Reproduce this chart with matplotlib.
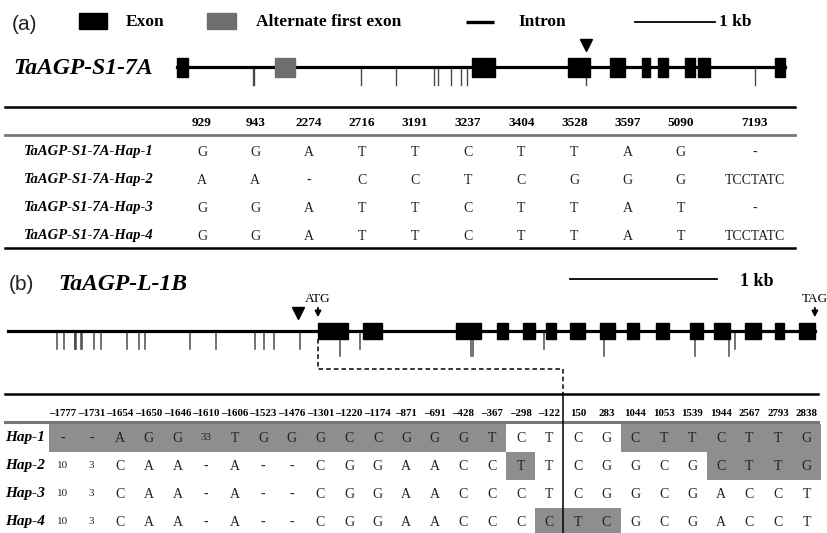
import matplotlib
matplotlib.use("Agg")
import matplotlib.pyplot as plt
from matplotlib.patches import Rectangle

SERIF = "Liberation Serif"
SANS = "Liberation Sans"

# ---------------- data ----------------
# (a) TaAGP-S1-7A : positions in bp
a_gene_span = (-20, 7570)
a_exons = [(-20, 120), (3660, 3950), (4860, 5135), (5385, 5575), (5785, 5885),
           (5985, 6110), (6320, 6445), (6485, 6635), (7445, 7570)]
a_alt_exon = (1205, 1455)
a_snp_pos = [929, 943, 2274, 2716, 3191, 3237, 3404, 3528, 3597, 5090, 7193]
a_marker_pos = 5090
a_hap_names = ["TaAGP-S1-7A-Hap-1", "TaAGP-S1-7A-Hap-2",
               "TaAGP-S1-7A-Hap-3", "TaAGP-S1-7A-Hap-4"]
a_alleles = [
    ["G", "G", "A", "T", "T", "C", "T", "T", "A", "G", "-"],
    ["A", "A", "-", "C", "C", "T", "C", "G", "G", "G", "TCCTATC"],
    ["G", "G", "A", "T", "T", "C", "T", "T", "A", "T", "-"],
    ["G", "G", "A", "T", "T", "C", "T", "T", "A", "T", "TCCTATC"],
]

# (b) TaAGP-L-1B : positions in bp relative to ATG
b_gene_span = (-2110, 3380)
b_exons = [(0, 204), (306, 435), (939, 1109), (1218, 1293), (1395, 1476),
           (1551, 1619), (1714, 1816), (1918, 2020), (2102, 2184), (2299, 2388),
           (2531, 2619), (2694, 2803), (2905, 3014), (3109, 3170), (3272, 3380)]
b_atg_pos = 0
b_tag_pos = 3380
b_marker_pos = -122
b_snp_pos = [-1777, -1731, -1654, -1650, -1646, -1610, -1606, -1523, -1476,
             -1301, -1220, -1174, -871, -691, -428, -367, -298, -122,
             150, 283, 1044, 1053, 1539, 1944, 2567, 2793, 2838]
b_hap_names = ["Hap-1", "Hap-2", "Hap-3", "Hap-4"]
b_alleles = [
    ["-", "-", "A", "G", "G", "33", "T", "G", "G", "G", "C", "C", "G", "G", "G", "T", "C", "T",
     "C", "G", "C", "T", "T", "C", "T", "T", "G"],
    ["10", "3", "C", "A", "A", "-", "A", "-", "-", "C", "G", "G", "A", "A", "C", "C", "T", "T",
     "C", "G", "G", "C", "G", "C", "T", "T", "G"],
    ["10", "3", "C", "A", "A", "-", "A", "-", "-", "C", "G", "G", "A", "A", "C", "C", "C", "T",
     "C", "G", "G", "C", "G", "A", "C", "C", "T"],
    ["10", "3", "C", "A", "A", "-", "A", "-", "-", "C", "G", "G", "A", "A", "C", "C", "C", "C",
     "T", "C", "G", "C", "G", "A", "C", "C", "T"],
]
# highlighted cells (1 = shaded)
b_shaded = [
    "1111111111111111" + "00" + "00" + "1111111",
    "0000000000000000" + "10" + "00" + "0001111",
    "0000000000000000" + "00" + "00" + "0000000",
    "0000000000000000" + "01" + "11" + "0000000",
]
b_split_after = 17  # promoter | coding region divider

# ---------------- figure ----------------
W, H = 828, 533
fig = plt.figure(figsize=(W / 100, H / 100), dpi=100)
fig.patch.set_facecolor("white")

# page axes in pixel units (tables, labels)
ax = fig.add_axes([0, 0, 1, 1])
ax.set_xlim(0, W)
ax.set_ylim(H, 0)
ax.axis("off")

# gene axes: x in bp, y in pixels
A_ORIG, A_K = 178.5, 0.08014   # px = A_ORIG + A_K * bp
B_ORIG, B_K = 318.0, 0.147
ax_a = fig.add_axes([0, 0, 1, 1])
ax_a.set_xlim(-A_ORIG / A_K, (W - A_ORIG) / A_K)
ax_a.set_ylim(H, 0)
ax_a.axis("off")
ax_a.patch.set_alpha(0)
ax_b = fig.add_axes([0, 0, 1, 1])
ax_b.set_xlim(-B_ORIG / B_K, (W - B_ORIG) / B_K)
ax_b.set_ylim(H, 0)
ax_b.axis("off")
ax_b.patch.set_alpha(0)

SHADE = "#8e8e8e"
ALT = "#6e6e6e"
TICK = "#4a4a4a"

# ---------------- panel (a) legend ----------------
ax.text(12, 25, "(a)", fontsize=15, family=SANS, va="center", ha="left", color="#222")
ax.add_patch(Rectangle((79, 13), 28, 16, color="black"))
ax.text(126, 22, "Exon", fontsize=12.5, family=SERIF, weight="bold", va="center")
ax.add_patch(Rectangle((207, 13), 29, 16, color=ALT))
ax.text(256, 22, "Alternate first exon", fontsize=12.5, family=SERIF, weight="bold", va="center")
ax.plot([466, 494], [22, 22], color="black", lw=2.4, solid_capstyle="butt")
ax.text(518, 22, "Intron", fontsize=12.5, family=SERIF, weight="bold", va="center")
ax_a.plot([5698, 5698 + 1000], [22, 22], color="black", lw=1.3)
ax.text(719, 22, "1 kb", fontsize=12.5, family=SERIF, weight="bold", va="center")

# ---------------- panel (a) gene ----------------
A_Y = 67
ax.text(13, A_Y + 1, "TaAGP-S1-7A", fontsize=17, family=SERIF, weight="bold",
        style="italic", va="center")
ax_a.plot(a_gene_span, [A_Y, A_Y], color="black", lw=2.3, zorder=2)
for p in a_snp_pos:
    ax_a.plot([p, p], [A_Y, 85], color=TICK, lw=1.0, zorder=1)
for s, e in a_exons:
    ax_a.add_patch(Rectangle((s, A_Y - 9.5), e - s, 19, color="black", zorder=3))
ax_a.add_patch(Rectangle((a_alt_exon[0], A_Y - 9.5), a_alt_exon[1] - a_alt_exon[0], 19,
                         color=ALT, zorder=3))
ax_a.plot([a_marker_pos], [45], marker="v", color="black", markersize=8, zorder=4)

# ---------------- panel (a) table ----------------
a_widths = [53.2] * 10 + [95]
a_left = 175.4
a_cols = []
edge = a_left
for w in a_widths:
    a_cols.append(edge + w / 2)
    edge += w
A_TOP, A_HDR, A_SUB, A_BOT = 107, 123, 135, 248
A_ROW0, A_DROW = 152, 28
ax.plot([5, 795], [A_TOP, A_TOP], color="black", lw=1.8)
ax.plot([5, 795], [A_SUB, A_SUB], color="#777777", lw=2.0)
ax.plot([5, 795], [A_BOT, A_BOT], color="black", lw=1.8)
for x, p in zip(a_cols, a_snp_pos):
    ax.text(x, A_HDR, str(p), fontsize=9.5, family=SERIF, weight="bold",
            ha="center", va="center")
for r, (name, row) in enumerate(zip(a_hap_names, a_alleles)):
    y = A_ROW0 + r * A_DROW
    ax.text(24, y, name, fontsize=10.5, family=SERIF, weight="bold", style="italic",
            va="center", ha="left")
    for x, v in zip(a_cols, row):
        ax.text(x, y, v, fontsize=10, family=SERIF, ha="center", va="center", color="#222")

# ---------------- panel (b) gene ----------------
B_Y = 331
ax.text(9, 285, "(b)", fontsize=15, family=SANS, va="center", ha="left", color="#222")
ax.text(58, 285, "TaAGP-L-1B", fontsize=17, family=SERIF, weight="bold",
        style="italic", va="center")
ax_b.plot([1714, 2714], [279, 279], color="black", lw=1.3)
ax.text(740, 282, "1 kb", fontsize=13, family=SERIF, weight="bold", va="center")

ax_b.plot(b_gene_span, [B_Y, B_Y], color="black", lw=2.3, zorder=2)
for s, e in b_exons:
    ax_b.add_patch(Rectangle((s, B_Y - 8), e - s, 16, color="black", zorder=3))
for p in b_snp_pos:
    inside = any(s <= p <= e for s, e in b_exons)
    top = B_Y + 7 if inside else B_Y
    ax_b.plot([p, p], [top, top + 18], color=TICK, lw=1.1, zorder=1)

for pos, lab in [(b_atg_pos, "ATG"), (b_tag_pos, "TAG")]:
    ax_b.text(pos, 299, lab, fontsize=9.5, family=SERIF, ha="center", va="center")
    ax_b.annotate("", xy=(pos, 320), xytext=(pos, 305),
                  arrowprops=dict(arrowstyle="-|>,head_length=0.35,head_width=0.18",
                                  color="black", lw=1.3))
ax_b.plot([b_marker_pos - 14], [313], marker="v", color="black", markersize=8, zorder=4)

# ---------------- panel (b) table ----------------
B_TOP, B_HDR, B_SUB = 394, 413, 422
B_ROW0, B_DROW = 438, 28
b_c0, b_dx = 63.0, 28.6
b_cols = [b_c0 + i * b_dx for i in range(len(b_snp_pos))]
split_x = b_c0 + (b_split_after + 0.5) * b_dx

# connector from ATG down to the table
atg_px = B_ORIG + B_K * b_atg_pos
ax.plot([atg_px, atg_px, split_x, split_x], [B_Y + 8, 369, 369, B_TOP],
        color="black", lw=1.1, ls=(0, (3, 2)))

for r, flags in enumerate(b_shaded):
    yc = B_ROW0 + r * B_DROW
    i = 0
    while i < len(flags):
        if flags[i] == "1":
            j = i
            while j < len(flags) and flags[j] == "1":
                j += 1
            x0 = b_cols[i] - b_dx / 2
            x1 = b_cols[j - 1] + b_dx / 2
            ax.add_patch(Rectangle((x0, yc - B_DROW / 2), x1 - x0, B_DROW,
                                   color=SHADE, lw=0, zorder=0))
            i = j
        else:
            i += 1

ax.plot([5, 818], [B_TOP, B_TOP], color="black", lw=1.8)
ax.plot([5, 818], [B_SUB, B_SUB], color="#777777", lw=2.2)
ax.plot([split_x, split_x], [B_TOP, H], color="black", lw=1.1)

for x, p in zip(b_cols, b_snp_pos):
    lab = ("\u2013" + str(-p)) if p < 0 else str(p)
    ax.text(x, B_HDR, lab, fontsize=7.8, family=SERIF, weight="bold",
            ha="center", va="center")
for r, (name, row) in enumerate(zip(b_hap_names, b_alleles)):
    y = B_ROW0 + r * B_DROW
    ax.text(5, y, name, fontsize=11, family=SERIF, weight="bold", style="italic",
            va="center", ha="left")
    for x, v in zip(b_cols, row):
        fs = 8 if v.isdigit() else 10
        ax.text(x, y, v, fontsize=fs, family=SERIF, ha="center", va="center",
                color="#222", zorder=2)

fig.savefig("out.png", dpi=100, facecolor="white")
